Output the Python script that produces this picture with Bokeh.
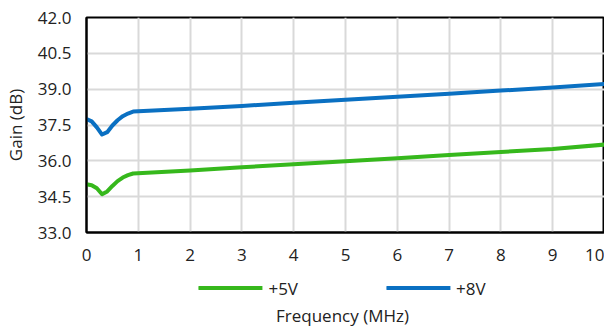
from bokeh.plotting import figure
from bokeh.models import Legend, LegendItem, FixedTicker, NumeralTickFormatter, Range1d, LinearAxis
from bokeh.layouts import column
from bokeh.embed import file_html
from bokeh.resources import INLINE

freq = [0.0, 0.1, 0.2, 0.3, 0.4, 0.5, 0.6, 0.7, 0.8, 0.9, 2, 3, 4, 5, 6, 7, 8, 9, 10]
gain_5v = [35.02, 34.98, 34.85, 34.6, 34.72, 34.95, 35.15, 35.3, 35.4, 35.47,
           35.6, 35.73, 35.86, 35.98, 36.11, 36.24, 36.37, 36.5, 36.68]
gain_8v = [37.75, 37.65, 37.4, 37.1, 37.2, 37.48, 37.7, 37.87, 37.98, 38.06,
           38.18, 38.3, 38.43, 38.56, 38.68, 38.81, 38.94, 39.07, 39.22]
y_ticks = [33.0, 34.5, 36.0, 37.5, 39.0, 40.5, 42.0]
x_ticks = [0, 1, 2, 3, 4, 5, 6, 7, 8, 9, 10]
labels = ["+5V", "+8V"]
colors = ["#36b81c", "#0a70c2"]

FONT = "Open Sans"
FS = "17px"
TXT = "#222222"

p = figure(width=604, height=272, output_backend="svg", toolbar_location=None,
           x_range=Range1d(0, 10), y_range=Range1d(33, 42),
           min_border_left=80, min_border_right=0, min_border_top=17, min_border_bottom=40)

p.line(freq, gain_5v, line_color=colors[0], line_width=4, line_cap="round", line_join="round")
p.line(freq, gain_8v, line_color=colors[1], line_width=4, line_cap="round", line_join="round")

p.xaxis.ticker = FixedTicker(ticks=x_ticks)
p.yaxis.ticker = FixedTicker(ticks=y_ticks)
p.yaxis.formatter = NumeralTickFormatter(format="0.0")
for ax in (p.xaxis[0], p.yaxis[0]):
    ax.major_label_text_font = FONT
    ax.major_label_text_font_size = FS
    ax.major_label_text_color = TXT
    ax.major_tick_line_color = None
    ax.minor_tick_line_color = None
    ax.axis_line_color = "black"
    ax.axis_line_width = 2
    ax.axis_label_text_font = FONT
    ax.axis_label_text_font_size = FS
    ax.axis_label_text_font_style = "normal"
    ax.axis_label_text_color = TXT
p.yaxis.axis_label = "Gain (dB)"
p.yaxis.axis_label_standoff = 8
p.yaxis.major_label_standoff = 9
p.xaxis.major_label_standoff = 10

p.xgrid.ticker = FixedTicker(ticks=x_ticks)
p.ygrid.ticker = FixedTicker(ticks=y_ticks)
p.grid.grid_line_color = "#d9d9d9"
p.grid.grid_line_width = 2
p.outline_line_color = "black"
p.outline_line_width = 2
p.background_fill_color = "white"

# legend + x-axis title strip (series drawn again, out of view, only to feed the legend)
p2 = figure(width=598, height=57, output_backend="svg", toolbar_location=None,
            x_range=Range1d(0, 1), y_range=Range1d(0, 1),
            x_axis_type=None, y_axis_type=None,
            min_border_left=76, min_border_right=0, min_border_top=0, min_border_bottom=0)
p2.outline_line_color = None
p2.grid.visible = False
r5 = p2.line(freq, gain_5v, line_color=colors[0], line_width=4, line_cap="round")
r8 = p2.line(freq, gain_8v, line_color=colors[1], line_width=4, line_cap="round")
legend = Legend(items=[LegendItem(label=labels[0], renderers=[r5]),
                       LegendItem(label=labels[1], renderers=[r8])],
                orientation="horizontal", location="center",
                glyph_width=64, label_standoff=6, spacing=88,
                label_text_font=FONT, label_text_font_size=FS,
                label_text_color=TXT, border_line_color=None,
                background_fill_alpha=0, padding=0, margin=0)
p2.add_layout(legend)

label_axis = LinearAxis(ticker=FixedTicker(ticks=[]), axis_label="Frequency (MHz)",
                        axis_line_color=None, major_tick_line_color=None,
                        minor_tick_line_color=None, axis_label_standoff=0,
                        major_label_standoff=0,
                        axis_label_text_font=FONT, axis_label_text_font_size=FS,
                        axis_label_text_font_style="normal", axis_label_text_color=TXT)
p2.add_layout(label_axis, "below")

open("out.html", "w").write(file_html(column(p, p2, spacing=0), INLINE))
